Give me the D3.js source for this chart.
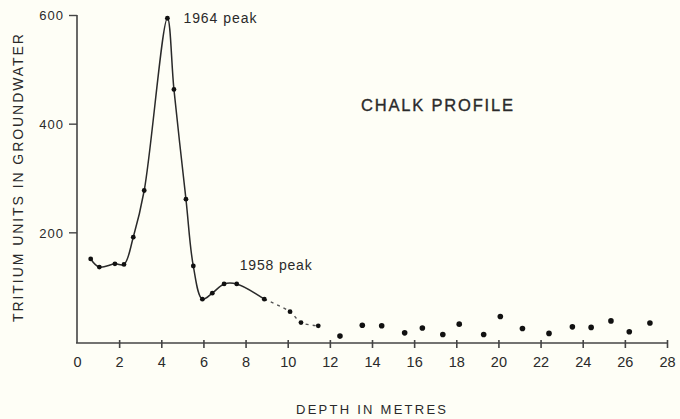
<!DOCTYPE html>
<html><head><meta charset="utf-8">
<script src="https://cdn.jsdelivr.net/npm/d3@7"></script>
<style>
html,body{margin:0;padding:0;background:#fefef6;}
svg{display:block;}
text{font-family:"Liberation Sans",Arial,Helvetica,sans-serif;fill:#2a2a2a;}
</style></head>
<body>
<svg id="c" width="680" height="419"></svg>
<script>
// ---- data ----
const curveDepth = [0.65,1.06,1.80,2.23,2.67,3.19,4.29,4.60,5.17,5.52,5.95,6.42,6.98,7.58,8.89];
const curveTritium = [151,136,142,141,191,277,594,463,261,138,77,88,105,105,77];
const tailDepth = [8.89,10.11,10.63,11.45];
const tailTritium = [77,54,34,28];
const scatterDepth = [12.48,13.54,14.46,15.55,16.39,17.36,18.14,19.30,20.09,21.14,22.40,23.51,24.40,25.34,26.21,27.19];
const scatterTritium = [9,29,28,15,24,12,31,12,45,23,14,26,25,37,17,33];
const xTicks = [0,2,4,6,8,10,12,14,16,18,20,22,24,26,28];
const yTicks = [200,400,600];
const annotations = [
  {label:"1964 peak", depth:4.29, value:594},
  {label:"1958 peak", depth:7.58, value:105}
];

const svg = d3.select("#c");
const x = d3.scaleLinear().domain([0,28]).range([77,667]);
const y = d3.scaleLinear().domain([0,600]).range([341,15]);
const axisY = 343;
const ink = "#2a2a2a";

// axes
const xAxis = svg.append("g").attr("transform",`translate(0,${axisY})`)
  .call(d3.axisBottom(x).tickValues(xTicks).tickSize(6).tickSizeOuter(0).tickFormat(d3.format("d")));
xAxis.select(".domain").attr("stroke","#444").attr("stroke-width",1.6).attr("d",`M${x(0)-1},0H${x(28)}`);
xAxis.selectAll(".tick line").attr("stroke","#444").attr("stroke-width",1.6).attr("y1",-3).attr("y2",5)
  .filter(d=>d===0).remove();
xAxis.selectAll(".tick text").attr("y",23.5).attr("dy",0).attr("font-size",14.5).attr("fill",ink);

const yAxis = svg.append("g").attr("transform",`translate(${x(0)},0)`)
  .call(d3.axisLeft(y).tickValues(yTicks).tickSize(8).tickSizeOuter(0));
yAxis.select(".domain").attr("stroke","#444").attr("stroke-width",1.6).attr("d",`M0,${y(600)}V${axisY}`);
yAxis.selectAll(".tick line").attr("stroke","#444").attr("stroke-width",1.4);
yAxis.selectAll(".tick text").attr("x",-13).attr("dy","0.36em").attr("font-size",13)
  .attr("letter-spacing",1).attr("fill",ink);
svg.selectAll("g").attr("font-family",null).attr("font-size",null);

// curve
const line = d3.line().x(d=>x(d[0])).y(d=>y(d[1])).curve(d3.curveCatmullRom.alpha(0.5));
const curvePts = curveDepth.map((d,i)=>[d,curveTritium[i]]);
const tailPts = tailDepth.map((d,i)=>[d,tailTritium[i]]);
svg.append("path").attr("d",line(curvePts)).attr("fill","none").attr("stroke",ink).attr("stroke-width",1.5);
svg.append("path").attr("d",line(tailPts)).attr("fill","none").attr("stroke","#555")
  .attr("stroke-width",1.4).attr("stroke-dasharray","3,4");

svg.append("g").selectAll("circle").data(curvePts.concat(tailPts.slice(1))).join("circle")
  .attr("cx",d=>x(d[0])).attr("cy",d=>y(d[1])).attr("r",2.4).attr("fill","#111");

svg.append("g").selectAll("circle").data(scatterDepth.map((d,i)=>[d,scatterTritium[i]])).join("circle")
  .attr("cx",d=>x(d[0])).attr("cy",d=>y(d[1])).attr("r",2.8).attr("fill","#111");

// annotations
svg.append("text").attr("x",x(annotations[0].depth)+16).attr("y",y(annotations[0].value)+5)
  .attr("font-size",14).attr("textLength",73).text(annotations[0].label);
svg.append("text").attr("x",x(annotations[1].depth)+3).attr("y",y(annotations[1].value)-14)
  .attr("font-size",14).attr("textLength",72).text(annotations[1].label);

svg.append("text").attr("x",361).attr("y",111).attr("font-size",16.5).attr("textLength",152)
  .attr("lengthAdjust","spacing").attr("stroke","#2a2a2a").attr("stroke-width",0.35).text("CHALK PROFILE");

// axis titles
svg.append("text").attr("x",296).attr("y",414).attr("font-size",13).attr("textLength",150)
  .text("DEPTH IN METRES");
svg.append("text").attr("transform","translate(23,178) rotate(-90)").attr("text-anchor","middle")
  .attr("font-size",14).attr("textLength",288).text("TRITIUM UNITS IN GROUNDWATER");
</script>
</body></html>
